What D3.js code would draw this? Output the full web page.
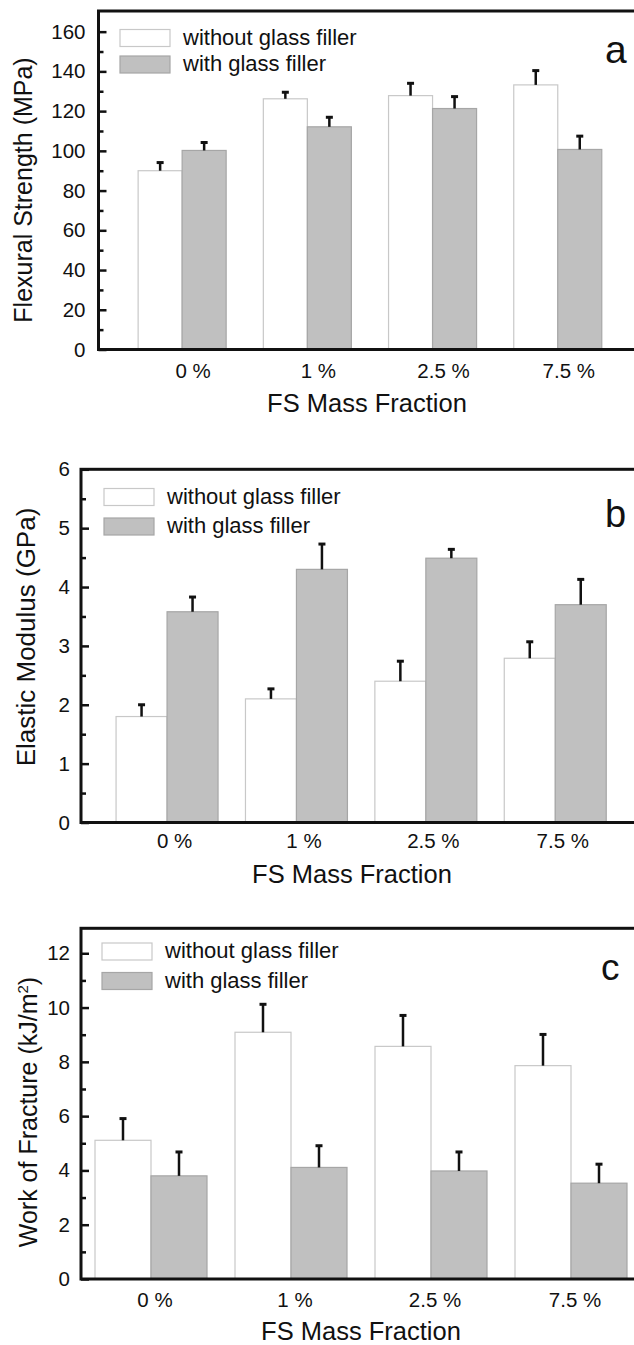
<!DOCTYPE html>
<html>
<head>
<meta charset="utf-8">
<script src="https://cdn.jsdelivr.net/npm/d3@7"></script>
<style>
  body { margin: 0; background: #fff; }
  text { font-family: "Liberation Sans", Arial, sans-serif; fill: #111; }
</style>
</head>
<body>
<svg id="chart"></svg>
<script>
var w = 634;
var h = 1345;

var categories = ["0 %", "1 %", "2.5 %", "7.5 %"];
var seriesNames = ["without glass filler", "with glass filler"];

// (a) flexural strength, MPa
var flexWithout = [90.0, 126.2, 127.8, 133.2];
var flexWithoutErr = [4.1, 3.3, 6.2, 7.2];
var flexWith = [100.2, 112.1, 121.3, 100.7];
var flexWithErr = [4.0, 4.8, 6.0, 6.7];
var flexTicks = [0, 20, 40, 60, 80, 100, 120, 140, 160];
var flexMinor = [10, 30, 50, 70, 90, 110, 130, 150];

// (b) elastic modulus, GPa
var modWithout = [1.80, 2.10, 2.40, 2.79];
var modWithoutErr = [0.20, 0.17, 0.34, 0.28];
var modWith = [3.58, 4.30, 4.49, 3.70];
var modWithErr = [0.25, 0.43, 0.15, 0.43];
var modTicks = [0, 1, 2, 3, 4, 5, 6];
var modMinor = [0.5, 1.5, 2.5, 3.5, 4.5, 5.5];

// (c) work of fracture, kJ/m2
var wofWithout = [5.11, 9.09, 8.57, 7.86];
var wofWithoutErr = [0.80, 1.03, 1.14, 1.15];
var wofWith = [3.80, 4.11, 3.98, 3.53];
var wofWithErr = [0.88, 0.80, 0.70, 0.70];
var wofTicks = [0, 2, 4, 6, 8, 10, 12];
var wofMinor = [1, 3, 5, 7, 9, 11];

var svg = d3.select("#chart")
            .attr("width", w)
            .attr("height", h);

function makePanel(p) {
  var g = svg.append("g");

  var x = d3.scaleBand()
            .domain(categories)
            .range([p.left, p.right])
            .paddingInner(p.padIn)
            .paddingOuter(p.padOut);
  var xSub = d3.scaleBand()
               .domain(seriesNames)
               .range([0, x.bandwidth()]);
  var y = d3.scaleLinear()
            .domain([0, p.yMax])
            .range([p.bottom, p.top]);

  var rows = [];
  categories.forEach(function(c, i){
    rows.push({cat: c, s: seriesNames[0], v: p.without[i], e: p.withoutErr[i]});
    rows.push({cat: c, s: seriesNames[1], v: p.withV[i], e: p.withErr[i]});
  });

  g.selectAll("rect.bar")
    .data(rows)
    .enter()
    .append("rect")
    .attr("class", "bar")
    .attr("x", function(d){ return x(d.cat) + xSub(d.s); })
    .attr("width", xSub.bandwidth())
    .attr("y", function(d){ return y(d.v); })
    .attr("height", function(d){ return p.bottom - y(d.v); })
    .attr("fill", function(d){ return d.s == seriesNames[0] ? "#ffffff" : "#c0c0c0"; })
    .attr("stroke", function(d){ return d.s == seriesNames[0] ? "#c8c8c8" : "#a6a6a6"; })
    .attr("stroke-width", 1.2);

  // error bars (upper half only)
  g.selectAll("line.err")
    .data(rows)
    .enter()
    .append("line")
    .attr("class", "err")
    .attr("x1", function(d){ return x(d.cat) + xSub(d.s) + xSub.bandwidth()/2; })
    .attr("x2", function(d){ return x(d.cat) + xSub(d.s) + xSub.bandwidth()/2; })
    .attr("y1", function(d){ return y(d.v); })
    .attr("y2", function(d){ return y(d.v + d.e); })
    .attr("stroke", "#111")
    .attr("stroke-width", 2.5);

  g.selectAll("line.cap")
    .data(rows)
    .enter()
    .append("line")
    .attr("class", "cap")
    .attr("x1", function(d){ return x(d.cat) + xSub(d.s) + xSub.bandwidth()/2 - 3.5; })
    .attr("x2", function(d){ return x(d.cat) + xSub(d.s) + xSub.bandwidth()/2 + 3.5; })
    .attr("y1", function(d){ return y(d.v + d.e); })
    .attr("y2", function(d){ return y(d.v + d.e); })
    .attr("stroke", "#111")
    .attr("stroke-width", 3);

  // y axis, ticks pointing inward
  var yAxis = d3.axisLeft(y)
                .tickValues(p.ticks)
                .tickFormat(d3.format("d"))
                .tickSize(-8)
                .tickPadding(p.tickPad);
  var yMinor = d3.axisLeft(y)
                 .tickValues(p.minor)
                 .tickSize(-5)
                 .tickFormat("");

  var ga = g.append("g")
            .attr("transform", "translate(" + p.left + ",0)")
            .call(yAxis);
  g.append("g")
    .attr("transform", "translate(" + p.left + ",0)")
    .call(yMinor);
  g.selectAll(".domain").remove();
  g.selectAll(".tick line")
    .attr("stroke", "#111")
    .attr("stroke-width", 2.5);
  ga.selectAll("text")
    .attr("font-family", "Liberation Sans, Arial, sans-serif")
    .attr("font-size", "20.5px")
    .attr("fill", "#111");

  // frame
  g.append("rect")
    .attr("x", p.left)
    .attr("y", p.top)
    .attr("width", p.right - p.left)
    .attr("height", p.bottom - p.top)
    .attr("fill", "none")
    .attr("stroke", "#111")
    .attr("stroke-width", 3);

  // category labels
  g.selectAll("text.cat")
    .data(categories)
    .enter()
    .append("text")
    .attr("class", "cat")
    .attr("x", function(d){ return x(d) + x.bandwidth()/2 + p.labelShift; })
    .attr("y", p.catY)
    .attr("text-anchor", "middle")
    .attr("font-size", "20.5px")
    .text(function(d){ return d; });

  g.append("text")
    .attr("x", p.xTitleX)
    .attr("y", p.xTitleY)
    .attr("text-anchor", "middle")
    .attr("font-size", "25.5px")
    .text("FS Mass Fraction");

  var yt = g.append("text")
            .attr("transform", "translate(" + p.yTitleX + "," + p.yTitleY + ") rotate(-90)")
            .attr("text-anchor", "middle")
            .attr("font-size", p.yTitleSize + "px");
  if (p.yTitleSup) {
    yt.append("tspan").text(p.yTitle);
    yt.append("tspan").attr("dy", -9).attr("font-size", "15px").text(p.yTitleSup);
    yt.append("tspan").attr("dy", 9).text(")");
  } else {
    yt.text(p.yTitle);
  }

  // legend
  var leg = g.selectAll("g.leg")
             .data(seriesNames)
             .enter()
             .append("g")
             .attr("class", "leg");
  leg.append("rect")
    .attr("x", p.legX)
    .attr("y", function(d, i){ return p.legY + i*p.legGap; })
    .attr("width", 50)
    .attr("height", 17)
    .attr("fill", function(d, i){ return i == 0 ? "#ffffff" : "#c0c0c0"; })
    .attr("stroke", function(d, i){ return i == 0 ? "#c8c8c8" : "#a6a6a6"; })
    .attr("stroke-width", 1.2);
  leg.append("text")
    .attr("x", p.legX + 63)
    .attr("y", function(d, i){ return p.legY + i*p.legGap + 15; })
    .attr("font-size", "22px")
    .text(function(d){ return d; });

  g.append("text")
    .attr("x", p.letterX)
    .attr("y", p.letterY)
    .attr("font-size", p.letterSize + "px")
    .text(p.letter);
}

makePanel({
  without: flexWithout, withoutErr: flexWithoutErr, withV: flexWith, withErr: flexWithErr,
  ticks: flexTicks, minor: flexMinor, yMax: 170.4,
  left: 98.5, right: 641.4, top: 11, bottom: 349.5, padIn: 0.297, padOut: 0.3165,
  tickPad: 13, labelShift: 11, catY: 378,
  xTitleX: 367, xTitleY: 411.5,
  yTitle: "Flexural Strength (MPa)", yTitleX: 32, yTitleY: 190, yTitleSize: 25,
  legX: 120, legY: 29.5, legGap: 26.5,
  letter: "a", letterX: 605, letterY: 63, letterSize: 39
});

makePanel({
  without: modWithout, withoutErr: modWithoutErr, withV: modWith, withErr: modWithErr,
  ticks: modTicks, minor: modMinor, yMax: 6,
  left: 81, right: 641.3, top: 469.3, bottom: 822.5, padIn: 0.212, padOut: 0.271,
  tickPad: 11, labelShift: 7.5, catY: 848,
  xTitleX: 352, xTitleY: 883,
  yTitle: "Elastic Modulus (GPa)", yTitleX: 35, yTitleY: 637, yTitleSize: 26,
  legX: 104, legY: 488.5, legGap: 29.5,
  letter: "b", letterX: 605, letterY: 527, letterSize: 38
});

makePanel({
  without: wofWithout, withoutErr: wofWithoutErr, withV: wofWith, withErr: wofWithErr,
  ticks: wofTicks, minor: wofMinor, yMax: 12.92,
  left: 81, right: 641, top: 928.3, bottom: 1279, padIn: 0.2, padOut: 0.1,
  tickPad: 11, labelShift: 4, catY: 1307,
  xTitleX: 361, xTitleY: 1340,
  yTitle: "Work of Fracture (kJ/m", yTitleSup: "2", yTitleX: 37, yTitleY: 1112, yTitleSize: 25,
  legX: 102, legY: 943, legGap: 29.5,
  letter: "c", letterX: 601, letterY: 980, letterSize: 37
});
</script>
</body>
</html>
